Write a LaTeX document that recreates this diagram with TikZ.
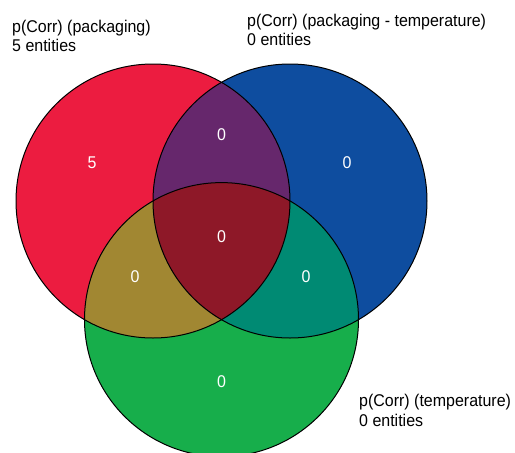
\documentclass[tikz,border=0pt]{standalone}
\usepackage{fontspec}
\setmainfont[FakeStretch=0.94]{Liberation Sans}
\usetikzlibrary{positioning}
\definecolor{vnRed}{RGB}{236,28,64}
\definecolor{vnBlue}{RGB}{14,77,159}
\definecolor{vnGreen}{RGB}{23,174,75}
\definecolor{vnPurple}{RGB}{102,39,108}
\definecolor{vnOlive}{RGB}{161,135,50}
\definecolor{vnTeal}{RGB}{0,138,115}
\definecolor{vnCore}{RGB}{142,24,40}
\tikzset{
  count/.style={text=white, inner sep=0pt, font=\fontsize{17}{20}\selectfont},
  setlabel/.style={anchor=north west, align=left, inner sep=0pt, font=\fontsize{17}{19.5}\selectfont}
}

\begin{document}
\begin{tikzpicture}[x=1pt,y=-1pt]
  \useasboundingbox (0,0) rectangle (515,453);
  \def\rad{137pt}
  % set centres
  \coordinate (P) at (153,201);
  \coordinate (T) at (290,201);
  \coordinate (G) at (221.5,319.6);

  % single sets
  \fill[vnRed] (P) circle (\rad);
  \fill[vnBlue] (T) circle (\rad);
  \fill[vnGreen] (G) circle (\rad);

  % pairwise overlaps
  \begin{scope}
    \clip (P) circle (\rad);
    \fill[vnPurple] (T) circle (\rad);
    \fill[vnOlive] (G) circle (\rad);
  \end{scope}
  \begin{scope}
    \clip (T) circle (\rad);
    \fill[vnTeal] (G) circle (\rad);
  \end{scope}

  % all three
  \begin{scope}
    \clip (P) circle (\rad);
    \clip (T) circle (\rad);
    \fill[vnCore] (G) circle (\rad);
  \end{scope}

  % outlines
  \draw[black, line width=1pt] (P) circle (\rad);
  \draw[black, line width=1pt] (T) circle (\rad);
  \draw[black, line width=1pt] (G) circle (\rad);

  % counts
  \node[count] (nP) at (92,163) {5};
  \node[count] (nT) at (347,163) {0};
  \node[count] (nPT) at (221.5,135) {0};
  \node[count] (nPTG) at (221.5,237) {0};
  \node[count] (nPG) at (135,277) {0};
  \node[count] (nTG) at (306,277) {0};
  \node[count] (nG) at (221.5,381.5) {0};

  % set labels
  \node[setlabel] (lP) at (12,19.5) {p(Corr) (packaging)\\5 entities};
  \node[setlabel] (lT) at (247,13.5) {p(Corr) (packaging - temperature)\\0 entities};
  \node[setlabel] (lG) at (359,394) {p(Corr) (temperature)\\0 entities};
\end{tikzpicture}
\end{document}
